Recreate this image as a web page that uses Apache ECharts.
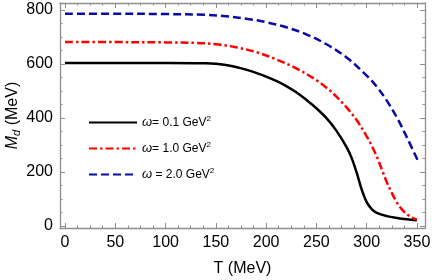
<!DOCTYPE html>
<html>
<head>
<meta charset="utf-8">
<script src="https://cdn.jsdelivr.net/npm/echarts@6/dist/echarts.min.js"></script>
<style>html,body{margin:0;padding:0;background:#fff}#c{width:436px;height:280px}</style>
</head>
<body>
<div id="c"></div>
<script>
// ---- data ----
var seriesNames = ['ω= 0.1 GeV²', 'ω= 1.0 GeV²', 'ω = 2.0 GeV²'];
var blackT = [0, 50, 100, 140, 150, 160, 170, 180, 190, 200, 210, 220, 230, 240, 250, 260, 270, 280, 285, 290, 295, 300, 305, 310, 320, 330, 340, 350];
var blackM = [604, 604, 604, 603, 601, 596, 589, 579, 567, 553, 537, 518, 495, 467, 436, 399, 352, 292, 252, 198, 135, 88, 62, 48, 36, 29, 24, 21];
var redT = [0, 50, 100, 130, 150, 170, 190, 210, 230, 250, 260, 270, 280, 290, 300, 305, 310, 315, 320, 325, 330, 335, 340, 345, 350];
var redM = [681, 681, 680, 678, 673, 662, 644, 617, 584, 540, 512, 479, 439, 392, 332, 297, 257, 210, 162, 122, 87, 61, 43, 31, 23];
var blueT = [0, 50, 100, 140, 160, 180, 200, 220, 240, 260, 280, 300, 310, 320, 330, 340, 352];
var blueM = [786, 786, 785, 782, 777, 768, 755, 736, 710, 673, 624, 557, 516, 464, 402, 328, 233];
var xTicks = [0, 50, 100, 150, 200, 250, 300, 350];
var yTicks = [0, 200, 400, 600, 800];

function pairs(a, b) { return a.map(function (v, i) { return [v, b[i]]; }); }
function minors(major, n, lo, hi) {
  var out = [], step = (major[1] - major[0]) / n;
  for (var v = major[0] - step * n; v <= major[major.length - 1] + step * n; v += step) {
    var isMajor = major.some(function (m) { return Math.abs(m - v) < 1e-6; });
    if (!isMajor && v >= lo && v <= hi) out.push(v);
  }
  return out;
}
var xMin = -5, xMax = 358, yMin = -8, yMax = 826;
var xMinor = minors(xTicks, 4, xMin, xMax);
var yMinor = minors(yTicks, 4, yMin, yMax);

var frameColor = '#8f8f8f';
var font = 'Liberation Sans, Arial, sans-serif';

function mkAxis(pos, min, max, ticks, len, labels, line) {
  return {
    type: 'value', position: pos, min: min, max: max, gridIndex: 0,
    splitLine: { show: false },
    axisLine: { show: line, onZero: false, lineStyle: { color: frameColor, width: 1.3 } },
    axisTick: { show: true, inside: true, length: len, customValues: ticks, lineStyle: { color: frameColor, width: 1 } },
    axisLabel: labels ? { show: true, customValues: ticks, color: '#000', fontSize: 16, fontFamily: font, margin: 7 } : { show: false }
  };
}

var xAxes = [mkAxis('bottom', xMin, xMax, xTicks, 5, true, true), mkAxis('bottom', xMin, xMax, xMinor, 2.5, false, false),
             mkAxis('top', xMin, xMax, xTicks, 5, false, true), mkAxis('top', xMin, xMax, xMinor, 2.5, false, false)];
xAxes[0].name = 'T (MeV)';
xAxes[0].nameLocation = 'middle';
xAxes[0].nameGap = 33;
xAxes[0].nameMoveOverlap = false;
xAxes[0].nameTextStyle = { color: '#000', fontSize: 16, fontFamily: font };

var yAxes = [mkAxis('left', yMin, yMax, yTicks, 5, true, true), mkAxis('left', yMin, yMax, yMinor, 2.5, false, false),
             mkAxis('right', yMin, yMax, yTicks, 5, false, true), mkAxis('right', yMin, yMax, yMinor, 2.5, false, false)];
yAxes[0].name = '{i|M}{sub|d} (MeV)';
yAxes[0].nameLocation = 'middle';
yAxes[0].nameGap = 38;
yAxes[0].nameMoveOverlap = false;
yAxes[0].nameTextStyle = {
  color: '#000', fontSize: 16, fontFamily: font,
  rich: {
    i: { fontStyle: 'italic', fontSize: 16, fontFamily: font, color: '#000' },
    sub: { fontStyle: 'italic', fontSize: 11, fontFamily: font, color: '#000', padding: [7, 0, 0, 0] }
  }
};

var styles = [
  { color: '#000000', width: 2.5, type: 'solid' },
  { color: '#ff0000', width: 2.5, type: [8, 3, 2.5, 3] },
  { color: '#0a0aa8', width: 2.5, type: [8, 4] }
];
var datasets = [pairs(blackT, blackM), pairs(redT, redM), pairs(blueT, blueM)];

var chart = echarts.init(document.getElementById('c'), null, { renderer: 'canvas' });
chart.setOption({
  animation: false,
  backgroundColor: '#fff',
  grid: { left: 60, right: 11, top: 3, bottom: 52, containLabel: false, outerBoundsMode: 'none' },
  xAxis: xAxes,
  yAxis: yAxes,
  legend: {
    orient: 'vertical', left: 83, top: 110,
    itemWidth: 48, itemHeight: 14, itemGap: 12,
    data: seriesNames,
    itemStyle: { opacity: 0 },
    textStyle: {
      fontSize: 12, fontFamily: font, color: '#000',
      rich: {
        w: { fontStyle: 'italic', fontSize: 13, fontFamily: font, color: '#000' },
        s: { fontSize: 8, fontFamily: font, color: '#000', padding: [0, 0, 7, 0] }
      }
    },
    formatter: function (n) { return n.replace('ω', '{w|ω}').replace('²', '{s|2}'); }
  },
  series: datasets.map(function (d, i) {
    return {
      name: seriesNames[i], type: 'line', data: d, xAxisIndex: 0, yAxisIndex: 0,
      smooth: 0.35, symbol: 'none', showSymbol: false,
      lineStyle: styles[i], itemStyle: { color: styles[i].color }
    };
  })
});
</script>
</body>
</html>
